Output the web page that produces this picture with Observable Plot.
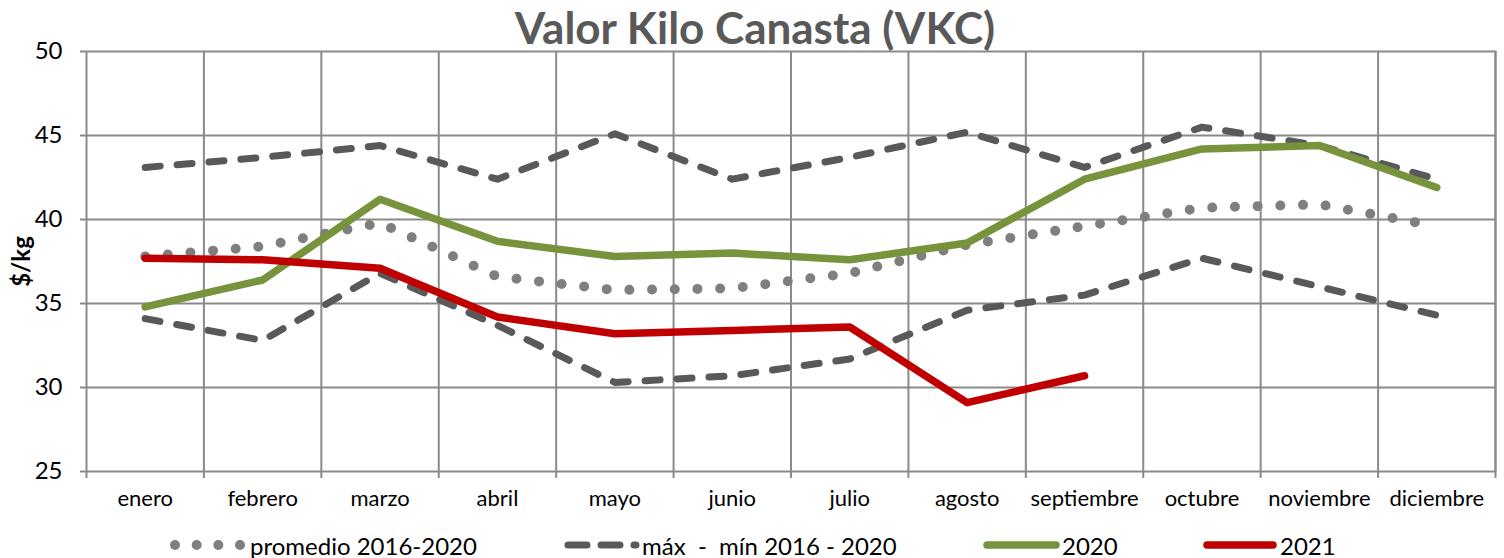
<!DOCTYPE html>
<html>
<head>
<meta charset="utf-8">
<script src="https://cdn.jsdelivr.net/npm/d3@7"></script>
<script src="https://cdn.jsdelivr.net/npm/@observablehq/plot@0.6"></script>
<style>
  body { margin: 0; background: #fff; }
  #wrap { position: relative; width: 1504px; height: 558px; font-family: Lato, "Open Sans", sans-serif; overflow: hidden; }
  #title { position: absolute; left: 3px; width: 1504px; top: 1px; text-align: center; font-size: 44px; line-height: normal; font-weight: bold; color: #595959; }
  .leg { position: absolute; top: 529px; height: 32px; display: flex; align-items: center; font-size: 24px; color: #000; white-space: pre; }
  .leg svg { display: block; }
</style>
</head>
<body>
<div id="wrap">
  <div id="chart"></div>
  <div id="title">Valor Kilo Canasta (VKC)</div>
</div>
<script>
const months = ["enero","febrero","marzo","abril","mayo","junio","julio","agosto","septiembre","octubre","noviembre","diciembre"];
const yTicks = [25, 30, 35, 40, 45, 50];
const promedio = [37.8, 38.4, 39.8, 36.6, 35.8, 35.9, 36.8, 38.5, 39.6, 40.7, 40.9, 39.6];
const maximo   = [43.1, 43.7, 44.4, 42.4, 45.1, 42.4, 43.7, 45.2, 43.1, 45.5, 44.4, 42.4];
const minimo   = [34.1, 32.8, 36.8, 33.7, 30.3, 30.7, 31.7, 34.6, 35.5, 37.7, 36.0, 34.3];
const v2020    = [34.8, 36.4, 41.2, 38.7, 37.8, 38.0, 37.6, 38.6, 42.4, 44.2, 44.4, 41.9];
const v2021    = [37.7, 37.6, 37.1, 34.2, 33.2, 33.4, 33.6, 29.1, 30.7];

const seriesNames = {
  prom: "promedio 2016-2020",
  max: "máx  -  mín 2016 - 2020",
  y2020: "2020",
  y2021: "2021"
};
const toRows = (arr, key) => arr.map((v, i) => ({i, v, s: key}));
const rowsProm = toRows(promedio, "prom");
const rowsMax = toRows(maximo, "max");
const rowsMin = toRows(minimo, "min");
const rows2020 = toRows(v2020, "y2020");
const rows2021 = toRows(v2021, "y2021");

const idx = months.map((_, i) => i);
const bounds = months.map((_, i) => i - 0.5).concat([months.length - 0.5]);

const GRID = "#8a8a8a";
const DASH = "#595959";
const DOT = "#7f7f7f";
const GREEN = "#77933C";
const RED = "#C00000";
const DOTS = "0,22.7";
const DASHES = "15,17";

const plot = Plot.plot({
  width: 1504,
  height: 522,
  marginTop: 51,
  marginBottom: 51,
  marginLeft: 86,
  marginRight: 9,
  style: {fontFamily: "Lato, 'Open Sans', sans-serif", color: "#000", background: "#fff"},
  x: {type: "linear", domain: [-0.5, months.length - 0.5]},
  y: {domain: [25, 50]},
  marks: [
    Plot.gridY(yTicks, {stroke: GRID, strokeOpacity: 1, strokeWidth: 2}),
    Plot.gridX(bounds, {stroke: GRID, strokeOpacity: 1, strokeWidth: 2}),
    Plot.axisY(yTicks, {tickSize: 6, tickPadding: 18, fontSize: 24, stroke: GRID, strokeWidth: 2, label: null}),
    Plot.axisX(bounds, {tickSize: 7, tickFormat: () => "", stroke: GRID, strokeWidth: 2, label: null}),
    Plot.axisX(idx, {tickSize: 0, tickPadding: 19, fontSize: 22, tickFormat: i => months[i], label: null}),
    Plot.text(["$/kg"], {frameAnchor: "left", dx: -64, rotate: -90, textAnchor: "middle", fontWeight: "bold", fontSize: 24, fill: "#000"}),
    Plot.lineY(rowsProm, {x: "i", y: "v", stroke: DOT, strokeWidth: 10, strokeDasharray: DOTS, strokeLinecap: "round"}),
    Plot.lineY(rowsMax, {x: "i", y: "v", stroke: DASH, strokeWidth: 7, strokeDasharray: DASHES, strokeLinecap: "round"}),
    Plot.lineY(rowsMin, {x: "i", y: "v", stroke: DASH, strokeWidth: 7, strokeDasharray: DASHES, strokeLinecap: "round"}),
    Plot.lineY(rows2020, {x: "i", y: "v", stroke: GREEN, strokeWidth: 7.5, strokeLinecap: "round", strokeLinejoin: "round"}),
    Plot.lineY(rows2021, {x: "i", y: "v", stroke: RED, strokeWidth: 7.5, strokeLinecap: "round", strokeLinejoin: "round"}),
    Plot.frame({anchor: "right", stroke: GRID, strokeWidth: 2})
  ]
});
document.getElementById("chart").appendChild(plot);
// enforce text sizes
const yLabels = new Set(yTicks.map(String));
const mLabels = new Set(months);
d3.select(plot).selectAll("text").each(function() {
  const t = this.textContent;
  if (yLabels.has(t)) this.style.fontSize = "24px";
  else if (mLabels.has(t)) this.style.fontSize = "22px";
  else if (t === "$/kg") this.style.fontSize = "24px";
});

// Legend
const legendItems = [
  {key: "prom", left: 170, stroke: DOT, w: 10, dash: "0,21.67", x1: 5, x2: 70.5, sw: 80},
  {key: "max", left: 560, stroke: DASH, w: 7, dash: "19,14", x1: 8, x2: 76, sw: 82},
  {key: "y2020", left: 980, stroke: GREEN, w: 7.5, dash: null, x1: 7, x2: 76, sw: 82},
  {key: "y2021", left: 1200, stroke: RED, w: 7.5, dash: null, x1: 7, x2: 73, sw: 80}
];
const wrap = document.getElementById("wrap");
for (const it of legendItems) {
  const d = document.createElement("div");
  d.className = "leg";
  d.style.left = it.left + "px";
  const ns = "http://www.w3.org/2000/svg";
  const s = document.createElementNS(ns, "svg");
  s.setAttribute("width", it.sw);
  s.setAttribute("height", 14);
  const l = document.createElementNS(ns, "line");
  l.setAttribute("x1", it.x1); l.setAttribute("x2", it.x2);
  l.setAttribute("y1", 7); l.setAttribute("y2", 7);
  l.setAttribute("stroke", it.stroke);
  l.setAttribute("stroke-width", it.w);
  l.setAttribute("stroke-linecap", "round");
  if (it.dash) l.setAttribute("stroke-dasharray", it.dash);
  s.appendChild(l);
  d.appendChild(s);
  const t = document.createElement("span");
  t.textContent = seriesNames[it.key];
  d.appendChild(t);
  wrap.appendChild(d);
}
</script>
</body>
</html>
